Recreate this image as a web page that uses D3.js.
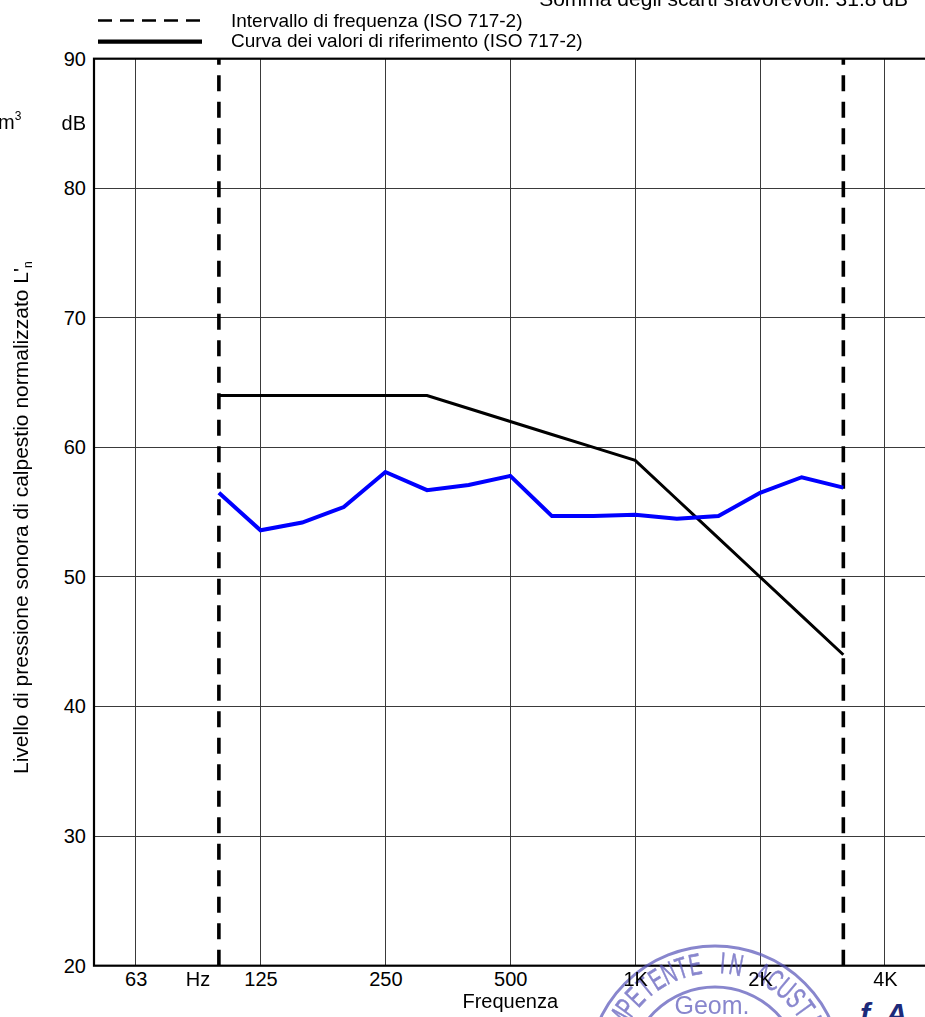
<!DOCTYPE html>
<html>
<head>
<meta charset="utf-8">
<script src="https://cdn.jsdelivr.net/npm/d3@7"></script>
<style>
  html, body { margin: 0; padding: 0; background: #fff; overflow: hidden; }
  svg { display: block; font-family: "Liberation Sans", Arial, sans-serif; }
</style>
</head>
<body>
<svg id="chart" width="925" height="1017"></svg>
<script>
// ---- data ----
const allBands = ["50","63","80","100","125","160","200","250","315","400","500","630","800","1000","1250","1600","2000","2500","3150","4000","5000"];
const bands = ["100","125","160","200","250","315","400","500","630","800","1000","1250","1600","2000","2500","3150"];
const measured = [56.5,53.6,54.2,55.4,58.1,56.7,57.1,57.8,54.7,54.7,54.8,54.5,54.7,56.5,57.7,56.9];
const reference = [64,64,64,64,64,64,63,62,61,60,59,56,53,50,47,44];
const octaveBands = ["63","125","250","500","1000","2000","4000"];
const octaveLabels = ["63","125","250","500","1K","2K","4K"];
const yTicks = [20,30,40,50,60,70,80,90];
const rangeBands = ["100","3150"];

const svg = d3.select("#chart");
const L = 94, R = 926.6, T = 58.7, B = 965.7;

const x = d3.scalePoint().domain(allBands).range([L, R]).padding(0);
const y = d3.scaleLinear().domain([20, 90]).range([B, T]);

// grid
const grid = svg.append("g").attr("shape-rendering", "crispEdges");
grid.selectAll("line.v").data(octaveBands).join("line")
  .attr("x1", d => x(d)).attr("x2", d => x(d))
  .attr("y1", T).attr("y2", B)
  .attr("stroke", "#3a3a3a").attr("stroke-width", 1);
grid.selectAll("line.h").data(yTicks.filter(v => v > 20 && v < 90)).join("line")
  .attr("x1", L).attr("x2", R)
  .attr("y1", d => y(d)).attr("y2", d => y(d))
  .attr("stroke", "#3a3a3a").attr("stroke-width", 1);

// frame
svg.append("rect").attr("x", L).attr("y", T).attr("width", R - L).attr("height", B - T)
  .attr("fill", "none").attr("stroke", "#000").attr("stroke-width", 2.2);

// stamp (background decoration)
const stamp = svg.append("g").attr("opacity", 0.7);
const scx = 715, scy = 1073, stampCol = "#5552b8";
stamp.append("circle").attr("cx", scx).attr("cy", scy).attr("r", 127)
  .attr("fill", "none").attr("stroke", stampCol).attr("stroke-width", 3);
stamp.append("circle").attr("cx", scx).attr("cy", scy).attr("r", 86)
  .attr("fill", "none").attr("stroke", stampCol).attr("stroke-width", 3);
const stampText = "TECNICO COMPETENTE IN ACUSTICA".split("");
const anchorIdx = 19, anchorAng = 4, stepAng = 7.2;
stamp.selectAll("text.sc").data(stampText).join("text")
  .attr("transform", (c, i) => `translate(${scx},${scy}) rotate(${anchorAng + (i - anchorIdx) * stepAng}) translate(0,-100) scale(0.62,1)`)
  .attr("text-anchor", "middle").attr("font-size", 30).attr("fill", stampCol)
  .attr("stroke", stampCol).attr("stroke-width", 0.6)
  .text(c => c);
stamp.append("text").attr("x", 712).attr("y", 1014).attr("text-anchor", "middle")
  .attr("font-size", 25).attr("fill", stampCol).text("Geom.");
svg.append("text").attr("x", 860).attr("y", 1024).attr("font-size", 30)
  .attr("font-style", "italic").attr("font-weight", "bold").attr("fill", "#1c2a7a").text("f. A");

// axes labels
const yAxis = d3.axisLeft(y).tickValues(yTicks).tickSize(0).tickPadding(8);
const gy = svg.append("g").attr("transform", `translate(${L},0)`).call(yAxis);
gy.select(".domain").remove();
gy.selectAll("text").attr("font-size", 20).attr("fill", "#000")
  .attr("font-family", "'Liberation Sans', Arial, sans-serif");

const xAxis = d3.axisBottom(x).tickValues(octaveBands)
  .tickFormat((d, i) => octaveLabels[i]).tickSize(0).tickPadding(6);
const gx = svg.append("g").attr("transform", `translate(0,${B})`).call(xAxis);
gx.select(".domain").remove();
gx.selectAll("text").attr("font-size", 20).attr("fill", "#000")
  .attr("font-family", "'Liberation Sans', Arial, sans-serif");
// unit "Hz" between the 80 and 100 Hz bands
svg.append("text").attr("x", (x("80") + x("100")) / 2).attr("y", B + 6).attr("dy", "0.71em")
  .attr("text-anchor", "middle").attr("font-size", 20).text("Hz");

// frequency range dashed lines
svg.selectAll("line.range").data(rangeBands).join("line")
  .attr("x1", d => x(d)).attr("x2", d => x(d))
  .attr("y1", B).attr("y2", T)
  .attr("stroke", "#000").attr("stroke-width", 3.6)
  .attr("stroke-dasharray", "16,10.5");

// reference curve
const line = d3.line().x(d => x(d[0])).y(d => y(d[1]));
svg.append("path").datum(bands.map((b, i) => [b, reference[i]]))
  .attr("d", line).attr("fill", "none").attr("stroke", "#000")
  .attr("stroke-width", 3).attr("stroke-linejoin", "miter");

// measured curve
svg.append("path").datum(bands.map((b, i) => [b, measured[i]]))
  .attr("d", line).attr("fill", "none").attr("stroke", "#0000ff")
  .attr("stroke-width", 4).attr("stroke-linejoin", "miter");

// legend
svg.append("line").attr("x1", 98).attr("x2", 202).attr("y1", 20.5).attr("y2", 20.5)
  .attr("stroke", "#000").attr("stroke-width", 2.6).attr("stroke-dasharray", "14,8");
svg.append("text").attr("x", 231).attr("y", 26.5).attr("font-size", 19)
  .text("Intervallo di frequenza (ISO 717-2)");
svg.append("line").attr("x1", 98).attr("x2", 202).attr("y1", 41.7).attr("y2", 41.7)
  .attr("stroke", "#000").attr("stroke-width", 4.2);
svg.append("text").attr("x", 231).attr("y", 47.3).attr("font-size", 19)
  .text("Curva dei valori di riferimento (ISO 717-2)");

// top cut text
svg.append("text").attr("x", 908).attr("y", 6).attr("text-anchor", "end").attr("font-size", 21)
  .text("Somma degli scarti sfavorevoli: 31.8 dB");

// unit labels
svg.append("text").attr("x", 86).attr("y", y(85) + 7).attr("text-anchor", "end")
  .attr("font-size", 20).text("dB");
const m3 = svg.append("text").attr("x", -2).attr("y", 129).attr("font-size", 20);
m3.append("tspan").text("m");
m3.append("tspan").attr("dy", -9).attr("font-size", 12).text("3");

// axis titles
svg.append("text").attr("x", x("500")).attr("y", 1008).attr("text-anchor", "middle")
  .attr("font-size", 20).text("Frequenza");
const yt = svg.append("text").attr("transform", "translate(28,774) rotate(-90)")
  .attr("font-size", 21);
yt.append("tspan").text("Livello di pressione sonora di calpestio normalizzato L'");
yt.append("tspan").attr("dy", 4).attr("font-size", 12).text("n");
</script>
</body>
</html>
